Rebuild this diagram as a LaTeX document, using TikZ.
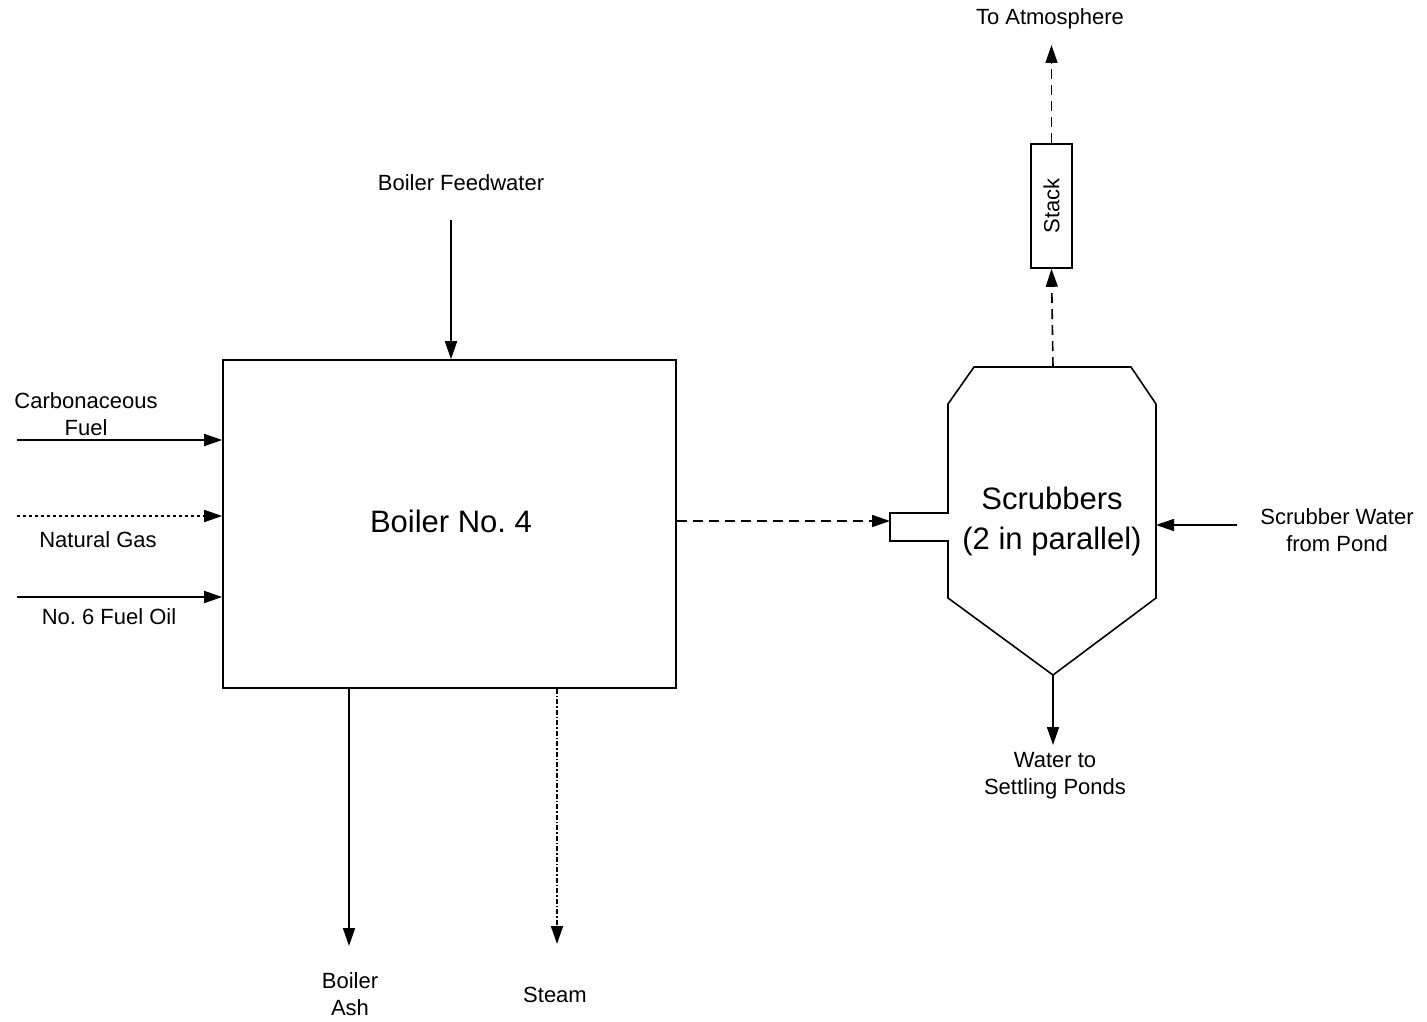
\documentclass[tikz,border=0pt]{standalone}
\usepackage{fontspec}
\setmainfont{Liberation Sans}
\usetikzlibrary{arrows.meta,positioning,calc}
\frenchspacing

\tikzset{
  lbl/.style={font=\fontsize{22}{27}\selectfont, align=center, inner sep=0pt},
  biglbl/.style={font=\fontsize{31}{40}\selectfont, align=center, inner sep=0pt},
  unit/.style={draw, line width=1.6pt, inner sep=0pt},
  flow/.style={-{Triangle[length=18pt,width=12pt]}, line width=1.6pt},
  gasflow/.style={flow, dash pattern=on 10pt off 6pt},
  dotflow/.style={flow, dash pattern=on 3pt off 3pt},
  steamflow/.style={flow, dash pattern=on 5pt off 2pt on 1.5pt off 2pt}
}

\begin{document}
\begin{tikzpicture}[x=1pt, y=-1pt]
  \useasboundingbox (0,0) rectangle (1427,1022);

  % boiler
  \node[unit, minimum width=453, minimum height=328] (boiler) at (449.5,524) {};
  \node[biglbl] (boilerlbl) at (451,521) {Boiler No. 4};

  % feedwater
  \node[lbl] (feedlbl) at (461,183) {Boiler Feedwater};
  \coordinate (feedsrc) at (451,220);
  \draw[flow] (feedsrc) -- (feedsrc |- boiler.north);

  % fuels in
  \node[lbl] (fuellbl) at (86,414.5) {Carbonaceous\\Fuel};
  \node[lbl] (gaslbl) at (98,540) {Natural Gas};
  \node[lbl] (oillbl) at (109,617) {No. 6 Fuel Oil};
  \coordinate (fuelsrc) at (17,440);
  \coordinate (gassrc) at (17,516);
  \coordinate (oilsrc) at (17,597);
  \draw[flow] (fuelsrc) -- (fuelsrc -| boiler.west);
  \draw[dotflow] (gassrc) -- (gassrc -| boiler.west);
  \draw[flow] (oilsrc) -- (oilsrc -| boiler.west);

  % boiler outputs
  \coordinate (ashout) at (349,946);
  \coordinate (steamout) at (557,944);
  \draw[flow] (boiler.south -| ashout) -- (ashout);
  \draw[steamflow] (boiler.south -| steamout) -- (steamout);
  \node[lbl] (ashlbl) at (350,994.5) {Boiler\\Ash};
  \node[lbl] (steamlbl) at (555,995) {Steam};

  % scrubbers
  \coordinate (scrubin) at (890,521);
  \coordinate (scrubtop) at (1053,367);
  \coordinate (scrubapex) at (1053,675);
  \coordinate (scrubright) at (1156,525);
  \draw[line width=1.6pt, line join=miter]
    (948,513) -- (948,404) -- (974,367) -- (1131,367) -- (1156,404)
    -- (1156,598) -- (scrubapex) -- (948,598) -- (948,541)
    -- (890,541) -- (890,513) -- cycle;
  \node[biglbl] (scrublbl) at (1052,521) {Scrubbers\\(2 in parallel)};
  \draw[gasflow] (boiler.east |- scrubin) -- (scrubin);

  % scrubber water
  \node[lbl] (pondlbl) at (1337,530.5) {Scrubber Water\\from Pond};
  \coordinate (pondsrc) at (1237,525);
  \draw[flow] (pondsrc) -- (scrubright);
  \coordinate (settleout) at (1053,745);
  \draw[flow] (scrubapex) -- (settleout);
  \node[lbl] (settlelbl) at (1055,776) {Water to\\Settling Ponds};

  % stack
  \node[unit, minimum width=124, minimum height=41, rotate=90, font=\fontsize{22}{26}\selectfont] (stack) at (1051.5,206) {Stack};
  \draw[gasflow] (scrubtop) -- (stack.west);
  \coordinate (atmo) at (1051.5,45);
  \draw[gasflow] (stack.east) -- (atmo);
  \node[lbl] (atmolbl) at (1050,19) {To Atmosphere};
\end{tikzpicture}
\end{document}
